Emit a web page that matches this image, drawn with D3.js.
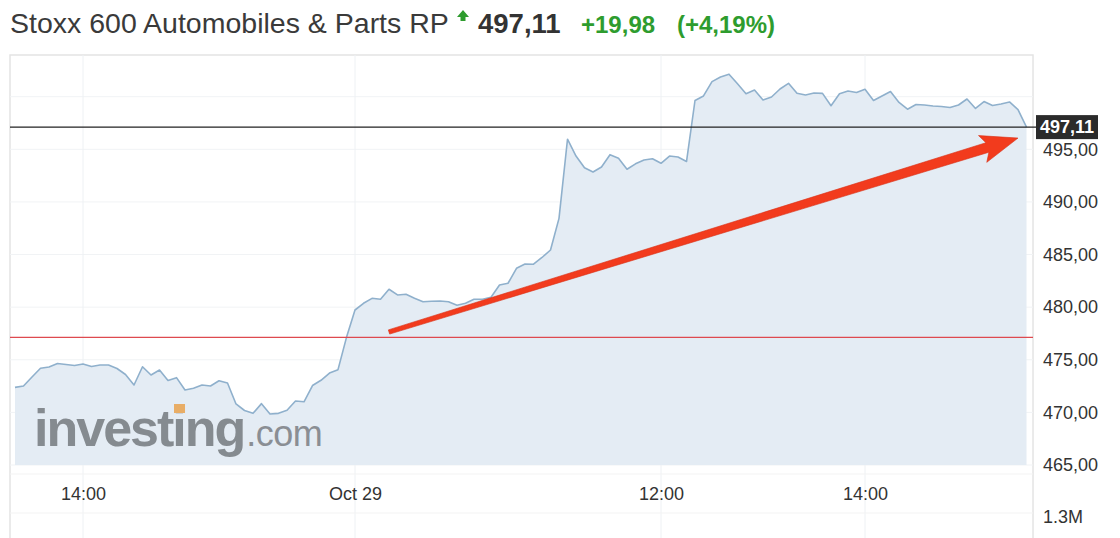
<!DOCTYPE html>
<html>
<head>
<meta charset="utf-8">
<script src="https://cdn.jsdelivr.net/npm/d3@7"></script>
<style>
  html, body { margin: 0; padding: 0; background: #fff; }
  svg { display: block; font-family: "Liberation Sans", Arial, Helvetica, sans-serif; }
</style>
</head>
<body>
<svg id="chart" width="1120" height="538"></svg>
<script>
// ---------- DATA ----------
const titleText = "Stoxx 600 Automobiles & Parts RP";
const lastPrice = 497.11;
const change = 19.98;
const changePct = 4.19;
const prevClose = 477.13;
const volumeLabel = "1.3M";

const sessionDates = ["Oct 26", "Oct 29"];
const sessionStarts = ["13:20", "09:00"];
const sessionCounts = [40, 80];
const stepMinutes = 5;

const day1Values = [
  472.38, 472.51, 473.36, 474.19, 474.31, 474.65, 474.55, 474.46, 474.60, 474.36,
  474.50, 474.50, 474.17, 473.60, 472.60, 474.34, 473.55, 474.03, 473.03, 473.30,
  472.13, 472.29, 472.60, 472.51, 473.01, 472.79, 470.80, 470.18, 469.91, 470.83,
  469.85, 469.91, 470.20, 471.08, 471.01, 472.55, 473.05, 473.74, 474.06, 477.13
];
const day2Values = [
  479.73, 480.37, 480.84, 480.75, 481.70, 481.16, 481.22, 480.84, 480.52, 480.56,
  480.58, 480.52, 480.18, 480.37, 480.75, 480.75, 480.94, 482.11, 482.27, 483.69,
  484.10, 484.08, 484.72, 485.43, 488.44, 495.96, 494.36, 493.24, 492.84, 493.32,
  494.49, 494.15, 493.11, 493.62, 493.98, 494.11, 493.67, 494.36, 494.27, 493.84,
  499.64, 500.07, 501.43, 501.87, 502.14, 501.23, 500.28, 500.64, 499.69, 499.97,
  500.73, 501.27, 500.32, 500.16, 500.35, 500.32, 499.14, 500.28, 500.54, 500.40,
  500.71, 499.64, 500.07, 500.49, 499.45, 498.81, 499.26, 499.21, 499.12, 499.07,
  498.97, 499.21, 499.78, 498.88, 499.54, 499.16, 499.31, 499.50, 498.78, 497.11
];

const tickCategories = ["Oct 26 14:00", "Oct 29 09:00", "Oct 29 12:00", "Oct 29 14:00"];
const tickLabels = ["14:00", "Oct 29", "12:00", "14:00"];
const yTickValues = [465, 470, 475, 480, 485, 490, 495];
const yGridValues = [465, 470, 475, 480, 485, 490, 495, 500];

// annotation arrow (in data space: category, value)
const arrowFrom = ["Oct 29 09:20", 477.64];
const arrowTo = ["Oct 29 15:30", 496.07];

// ---------- BUILD CATEGORIES ----------
function pad(n) { return String(n).padStart(2, "0"); }
const categories = [];
sessionDates.forEach((d, i) => {
  const [h, m] = sessionStarts[i].split(":").map(Number);
  let t = h * 60 + m;
  for (let k = 0; k < sessionCounts[i]; k++) {
    categories.push(d + " " + pad(Math.floor(t / 60)) + ":" + pad(t % 60));
    t += stepMinutes;
  }
});
const values = day1Values.concat(day2Values);
const data = categories.map((c, i) => ({ c, v: values[i] }));

// ---------- SCALES ----------
const svg = d3.select("#chart");
const frame = { left: 10, top: 55, right: 1033, bottom: 538 };
const x = d3.scalePoint().domain(categories).range([15, 1026.5]);
const y = d3.scaleLinear().domain([465, 500]).range([465, 96.7]);

const locale = d3.formatLocale({ decimal: ",", thousands: ".", grouping: [3], currency: ["", "€"] });
const fmt2 = locale.format(".2f");

// ---------- TITLE ----------
const title = svg.append("g");
title.append("text").attr("x", 10).attr("y", 33)
  .attr("font-size", 28.5).attr("fill", "#3a3a3a").text(titleText);
// up arrow
title.append("path")
  .attr("d", "M463,10 L469,17 L465.5,17 L465.5,21 L460.5,21 L460.5,17 L457,17 Z")
  .attr("fill", "#2e9c2e");
title.append("text").attr("x", 478).attr("y", 33)
  .attr("font-size", 27.5).attr("font-weight", "bold").attr("fill", "#333").text(fmt2(lastPrice));
title.append("text").attr("x", 581).attr("y", 33)
  .attr("font-size", 24).attr("font-weight", "bold").attr("fill", "#2e9c2e")
  .text("+" + fmt2(change));
title.append("text").attr("x", 677).attr("y", 33)
  .attr("font-size", 24).attr("font-weight", "bold").attr("fill", "#2e9c2e")
  .text("(+" + fmt2(changePct) + "%)");

// ---------- FRAME & GRID ----------
svg.append("rect")
  .attr("x", frame.left).attr("y", frame.top)
  .attr("width", frame.right - frame.left).attr("height", frame.bottom - frame.top + 5)
  .attr("fill", "none").attr("stroke", "#e4e4e4").attr("stroke-width", 1.5);

svg.append("g").selectAll("line").data(yGridValues).join("line")
  .attr("x1", frame.left).attr("x2", frame.right)
  .attr("y1", d => y(d)).attr("y2", d => y(d))
  .attr("stroke", "#f1f3f5").attr("stroke-width", 1);

svg.append("g").selectAll("line").data(tickCategories).join("line")
  .attr("x1", d => x(d)).attr("x2", d => x(d))
  .attr("y1", frame.top).attr("y2", frame.bottom)
  .attr("stroke", "#eef1f4").attr("stroke-width", 1);

[474, 513].forEach(yy => {
  svg.append("line").attr("x1", frame.left).attr("x2", frame.right)
    .attr("y1", yy).attr("y2", yy).attr("stroke", "#f3f3f3");
});

// ---------- AREA & LINE ----------
const area = d3.area().x(d => x(d.c)).y0(y(465)).y1(d => y(d.v));
const line = d3.line().x(d => x(d.c)).y(d => y(d.v));
svg.append("path").datum(data).attr("d", area).attr("fill", "#e4ecf4");

// ---------- WATERMARK ----------
const wm = svg.append("g").attr("opacity", 0.92);
const wmText = wm.append("text").attr("x", 34).attr("y", 446)
  .attr("font-size", 52).attr("font-weight", "bold").attr("fill", "#7e8388")
  .attr("letter-spacing", -2).text("investing");
const comText = wm.append("text").attr("y", 446)
  .attr("font-size", 36).attr("fill", "#83878c").attr("letter-spacing", -0.5).text(".com");
const wlen = wmText.node().getComputedTextLength();
comText.attr("x", 34 + wlen + 2);
try {
  const ext = wmText.node().getExtentOfChar(6);
  wm.append("rect")
    .attr("x", ext.x + ext.width / 2 - 4.5).attr("y", 404)
    .attr("width", 11).attr("height", 9).attr("fill", "#e9a85a");
} catch (e) {}

svg.append("path").datum(data).attr("d", line)
  .attr("fill", "none").attr("stroke", "#8fb0cc").attr("stroke-width", 1.6)
  .attr("stroke-linejoin", "round");

// ---------- REFERENCE LINES ----------
svg.append("line").attr("x1", frame.left).attr("x2", frame.right)
  .attr("y1", y(prevClose)).attr("y2", y(prevClose))
  .attr("stroke", "#de4a4f").attr("stroke-width", 1.2);
svg.append("line").attr("x1", frame.left).attr("x2", 1037)
  .attr("y1", y(lastPrice)).attr("y2", y(lastPrice))
  .attr("stroke", "#222").attr("stroke-width", 1.4);

// ---------- AXES ----------
const yAxis = d3.axisRight(y).tickValues(yTickValues).tickSize(0).tickPadding(10).tickFormat(fmt2);
const gy = svg.append("g").attr("transform", `translate(${frame.right},0)`).call(yAxis);
gy.select(".domain").remove();
gy.selectAll("text").attr("font-size", 18).attr("fill", "#333")
  .attr("font-family", "'Liberation Sans', Arial, sans-serif");

const xAxis = d3.axisBottom(x).tickValues(tickCategories).tickSize(0).tickPadding(15)
  .tickFormat(d => tickLabels[tickCategories.indexOf(d)]);
const gx = svg.append("g").attr("transform", "translate(0,472)").call(xAxis);
gx.select(".domain").remove();
gx.selectAll("text").attr("font-size", 18).attr("fill", "#333")
  .attr("font-family", "'Liberation Sans', Arial, sans-serif");

svg.append("text").attr("x", 1043).attr("y", 517).attr("dy", "0.35em")
  .attr("font-size", 18).attr("fill", "#333").text(volumeLabel);

// last price label
const lp = svg.append("g");
lp.append("rect").attr("x", 1036).attr("y", y(lastPrice) - 12).attr("width", 62).attr("height", 24)
  .attr("fill", "#2b2b2b");
lp.append("text").attr("x", 1067).attr("y", y(lastPrice)).attr("dy", "0.35em")
  .attr("text-anchor", "middle").attr("font-size", 18).attr("font-weight", "bold")
  .attr("fill", "#fff").text(fmt2(lastPrice));

// ---------- ANNOTATION ARROW ----------
const x0 = x(arrowFrom[0]), y0 = y(arrowFrom[1]);
const x1 = x(arrowTo[0]), y1 = y(arrowTo[1]);
const dx = x1 - x0, dy = y1 - y0, L = Math.hypot(dx, dy);
const ux = dx / L, uy = dy / L, nx = -uy, ny = ux;
const headLen = 32, headW = 14, w0 = 2.2, w1 = 5;
const bx = x1 - ux * headLen, by = y1 - uy * headLen;
const pts = [
  [x0 + nx * w0, y0 + ny * w0],
  [bx + nx * w1, by + ny * w1],
  [bx - ux * 5 + nx * headW, by - uy * 5 + ny * headW],
  [x1, y1],
  [bx - ux * 5 - nx * headW, by - uy * 5 - ny * headW],
  [bx - nx * w1, by - ny * w1],
  [x0 - nx * w0, y0 - ny * w0]
];
svg.append("path").attr("d", "M" + pts.map(p => p.join(",")).join("L") + "Z")
  .attr("fill", "#f23b1d").attr("stroke", "#d92f14").attr("stroke-width", 0.6);
</script>
</body>
</html>
